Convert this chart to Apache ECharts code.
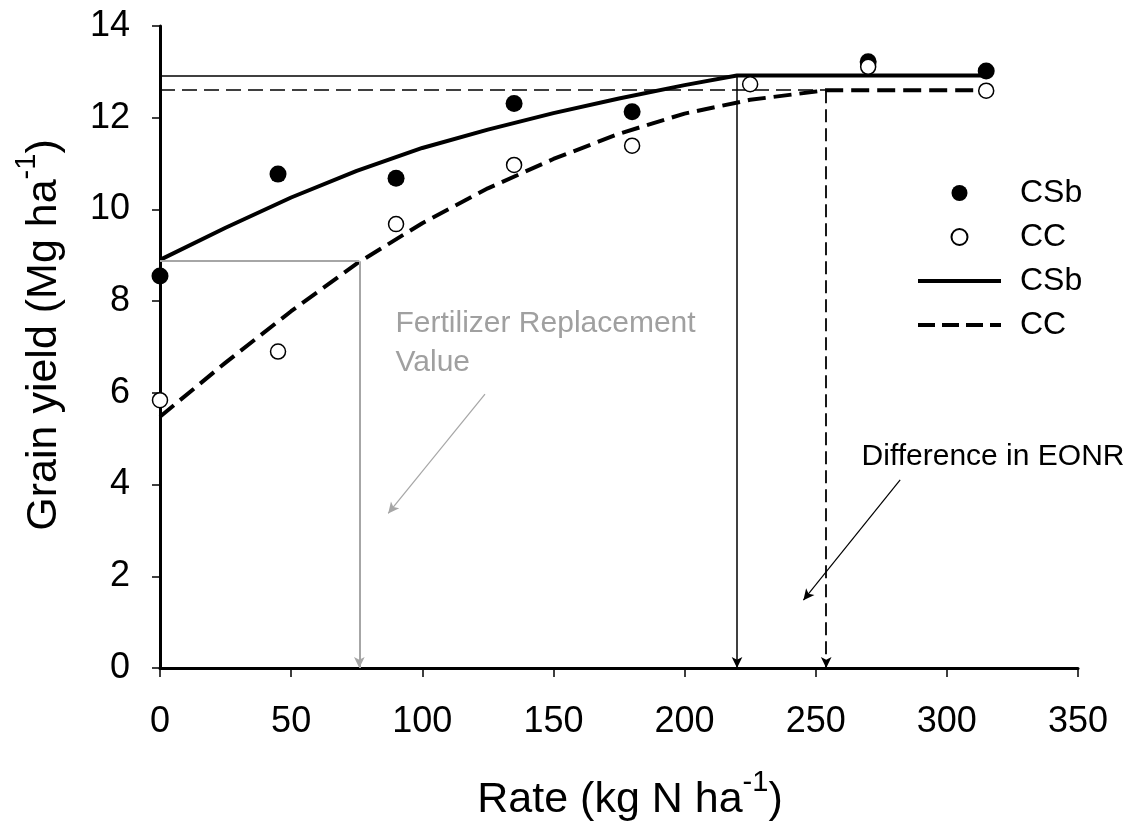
<!DOCTYPE html>
<html><head><meta charset="utf-8">
<script src="https://cdn.jsdelivr.net/npm/echarts@6/dist/echarts.min.js"></script>
<style>html,body{margin:0;padding:0;background:#fff}#c{width:1143px;height:829px}</style>
</head><body><div id="c"></div>
<script>
// Observed yields
const rates = [0, 45, 90, 135, 180, 225, 270, 315];
const csbObserved = [8.55, 10.77, 10.68, 12.31, 12.13, null, 13.22, 13.02];
const ccObserved = [5.84, 6.9, 9.68, 10.97, 11.39, 12.73, 13.11, 12.59];
// Fitted response curves
const csbCurveX = [0, 25, 50, 75, 100, 125, 150, 175, 200, 220, 315];
const csbCurveY = [8.9, 9.6, 10.26, 10.84, 11.34, 11.74, 12.1, 12.42, 12.71, 12.92, 12.92];
const ccCurveX = [0, 25, 50, 75, 100, 125, 150, 175, 200, 225, 250, 254, 315];
const ccCurveY = [5.48, 6.66, 7.78, 8.82, 9.7, 10.46, 11.1, 11.65, 12.09, 12.39, 12.57, 12.6, 12.6];
// Ticks
const xTicks = [0, 50, 100, 150, 200, 250, 300, 350];
const yTicks = [0, 2, 4, 6, 8, 10, 12, 14];
// Guide values
const eonrCSb = 220, plateauCSb = 12.92;
const eonrCC = 254, plateauCC = 12.6;
const frvRate = 76, frvYield = 8.87;
const frvArrow = [[123.9, 5.97], [87, 3.37]];
const eonrArrow = [[282.2, 4.1], [245.3, 1.48]];
const annoText = ['Fertilizer Replacement\nValue', 'Difference in EONR'];
const annoX = [89.6, 267.3];
const annoY = [7.09, 4.61];

const FONT = 'Liberation Sans, Arial, sans-serif';
const pair = (xs, ys) => xs.map((x, i) => [x, ys[i]]);
const obs = ys => rates.map((x, i) => ys[i] == null ? null : [x, ys[i]]).filter(Boolean);

const thin = (color, type, width) => ({ color, type, width });
const seg = (a, b, style, arrow) => [
  { coord: a, lineStyle: style, symbol: 'none' },
  { coord: b, symbol: arrow ? 'arrow' : 'none', symbolSize: arrow ? [8, 11] : 0 }
];
const nameRich = {
  a: { fontSize: 43, fontFamily: FONT, color: '#000', lineHeight: 64, verticalAlign: 'middle' },
  s: { fontSize: 29, fontFamily: FONT, color: '#000', lineHeight: 24, verticalAlign: 'top' }
};

const chart = echarts.init(document.getElementById('c'));
chart.setOption({
  animation: false,
  backgroundColor: '#fff',
  textStyle: { fontFamily: FONT },
  grid: { left: 160, right: 65, top: 26, bottom: 161, containLabel: false, outerBoundsMode: 'none' },
  xAxis: {
    type: 'value', min: xTicks[0], max: xTicks[xTicks.length - 1], interval: 50,
    name: '{a|Rate (kg N ha}{s|-1}{a|)}', nameLocation: 'middle', nameGap: 100,
    nameTextStyle: { rich: nameRich, padding: [0, 0, 0, 22] },
    axisLine: { show: true, onZero: false, lineStyle: { color: '#000', width: 3 } },
    axisTick: { show: true, length: 9, lineStyle: { color: '#000', width: 1.5 } },
    axisLabel: { fontSize: 36, color: '#000', fontFamily: FONT, margin: 36 },
    splitLine: { show: false }
  },
  yAxis: {
    type: 'value', min: yTicks[0], max: yTicks[yTicks.length - 1], interval: 2,
    name: '{a|Grain yield (Mg ha}{s|-1}{a|)}', nameLocation: 'middle', nameGap: 84, nameRotate: 90,
    nameTextStyle: { rich: nameRich, padding: [0, 0, 0, 24] },
    axisLine: { show: true, onZero: false, lineStyle: { color: '#000', width: 3 } },
    axisTick: { show: true, length: 8, lineStyle: { color: '#000', width: 1.5 } },
    axisLabel: { fontSize: 36, color: '#000', fontFamily: FONT, margin: 30 },
    splitLine: { show: false }
  },
  legend: {
    orient: 'vertical', left: 911, top: 172,
    itemWidth: 83, itemHeight: 16, itemGap: 12,
    data: [
      { name: 'CSb' },
      { name: 'CC' },
      { name: 'CSb ', itemStyle: { color: 'rgba(0,0,0,0)', borderWidth: 0 }, lineStyle: { width: 4, type: 'solid', color: '#000' } },
      { name: 'CC ', itemStyle: { color: 'rgba(0,0,0,0)', borderWidth: 0 }, lineStyle: { width: 4, type: [17, 7], color: '#000' } }
    ],
    formatter: n => n.trim(),
    textStyle: { fontSize: 32, color: '#000', fontFamily: FONT, lineHeight: 31.5, padding: [0, 0, 0, 14] },
    selectedMode: false
  },
  series: [
    {
      name: 'CSb ', type: 'line', data: pair(csbCurveX, csbCurveY), symbol: 'none', z: 3,
      lineStyle: { color: '#000', width: 4, type: 'solid' }, itemStyle: { color: '#000' }
    },
    {
      name: 'CC ', type: 'line', data: pair(ccCurveX, ccCurveY), symbol: 'none', z: 3,
      lineStyle: { color: '#000', width: 4, type: [18, 8] }, itemStyle: { color: '#000' }
    },
    {
      name: 'guides', type: 'scatter', z: 2, symbolSize: 1,
      itemStyle: { color: 'rgba(0,0,0,0)' },
      data: annoX.map((x, i) => ({ value: [x, annoY[i]], label: { formatter: annoText[i], color: i === 0 ? '#a0a0a0' : '#000000' } })),
      label: { show: true, position: 'right', distance: 0, fontSize: 30, lineHeight: 39, fontFamily: FONT, color: '#000000', align: 'left', verticalAlign: 'middle', opacity: 1 },
      markLine: {
        silent: true, animation: false, label: { show: false }, symbol: ['none', 'none'],
        data: [
          seg([0, plateauCSb], [eonrCSb, plateauCSb], thin('#000', 'solid', 1.5), false),
          seg([eonrCSb, plateauCSb], [eonrCSb, 0], thin('#000', 'solid', 1.5), true),
          seg([0, plateauCC], [eonrCC, plateauCC], thin('#000', [15, 7], 1.5), false),
          seg([eonrCC, plateauCC], [eonrCC, 0], thin('#000', [13, 6], 1.8), true),
          seg([0, frvYield], [frvRate, frvYield], thin('#a6a6a6', 'solid', 2), false),
          seg([frvRate, frvYield], [frvRate, 0], thin('#a6a6a6', 'solid', 2), true),
          seg(frvArrow[0], frvArrow[1], thin('#a6a6a6', 'solid', 1.2), true),
          seg(eonrArrow[0], eonrArrow[1], thin('#000', 'solid', 1.2), true)
        ]
      }
    },
    {
      name: 'CSb', type: 'scatter', data: obs(csbObserved), symbol: 'circle', symbolSize: 17, z: 5,
      itemStyle: { color: '#000', borderColor: '#000', borderWidth: 0, opacity: 1 }
    },
    {
      name: 'CC', type: 'scatter', data: obs(ccObserved), symbol: 'circle', symbolSize: 15, z: 6,
      itemStyle: { color: '#fff', borderColor: '#000', borderWidth: 1.5, opacity: 1 }
    }
  ]
});
</script></body></html>
